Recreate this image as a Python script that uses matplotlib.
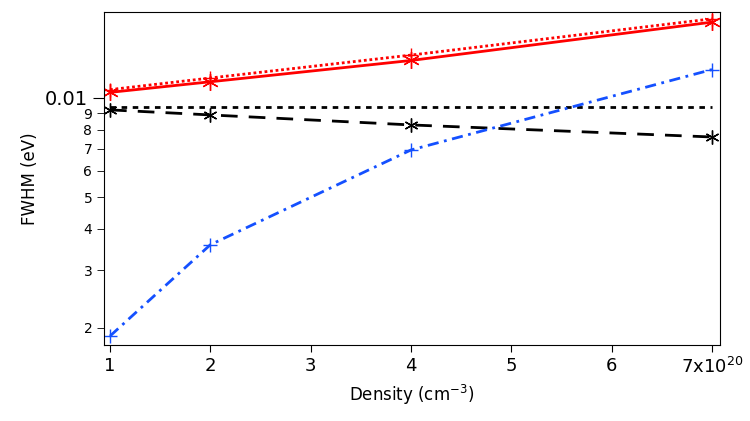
import numpy as np
import matplotlib
matplotlib.use("Agg")
import matplotlib.pyplot as plt
from matplotlib.ticker import FixedLocator, FixedFormatter

density = [1, 2, 4, 7]
red_solid = [0.0104, 0.0112, 0.0130, 0.0170]
red_dotted = [0.0106, 0.0115, 0.0135, 0.0174]
black_flat = [0.00939, 0.00939, 0.00939, 0.00939]
black_dashed = [0.0092, 0.00888, 0.00828, 0.00761]
blue = [0.00189, 0.00358, 0.00695, 0.0122]

plt.rcParams['font.family'] = ['DejaVu Sans']
fig = plt.figure(figsize=(7.5, 4.21), dpi=100)
ax = fig.add_axes([104/750, 1-345/421, 616/750, 333/421])

ax.plot(density, red_dotted, color='red', ls=(0, (1, 1)), lw=2, marker='+', ms=10, mew=1)
ax.plot(density, red_solid, color='red', ls='-', lw=2, marker=(6, 2, 0), ms=12, mew=1)
ax.plot(density, black_flat, color='black', ls=(0, (2, 2)), lw=2)
ax.plot(density, black_dashed, color='black', ls=(0, (6, 4)), lw=2, marker=(6, 2, 0), ms=10, mew=1)
ax.plot(density, blue, color='#1450ff', ls=(0, (4, 2, 1, 2)), lw=2, marker='+', ms=10, mew=1)

ax.set_yscale('log')
ax.set_xlim(0.94, 7.08)
ax.set_ylim(0.001775, 0.01825)

ax.set_xticks([1, 2, 3, 4, 5, 6, 7])
ax.set_xticklabels(['1', '2', '3', '4', '5', '6', r'7x10$^{20}$'], fontsize=13)
ax.yaxis.set_major_locator(FixedLocator([0.01]))
ax.yaxis.set_major_formatter(FixedFormatter(['0.01']))
minors = [0.002, 0.003, 0.004, 0.005, 0.006, 0.007, 0.008, 0.009]
ax.yaxis.set_minor_locator(FixedLocator(minors))
ax.yaxis.set_minor_formatter(FixedFormatter([str(i) for i in range(2, 10)]))
ax.tick_params(axis='y', which='major', labelsize=14, length=8)
ax.tick_params(axis='y', which='minor', labelsize=10, length=5)
ax.tick_params(axis='x', length=5)

ax.set_xlabel('Density (cm$^{-3}$)', fontsize=12)
ax.set_ylabel('FWHM (eV)', fontsize=12)

fig.savefig('out.png', dpi=100)
